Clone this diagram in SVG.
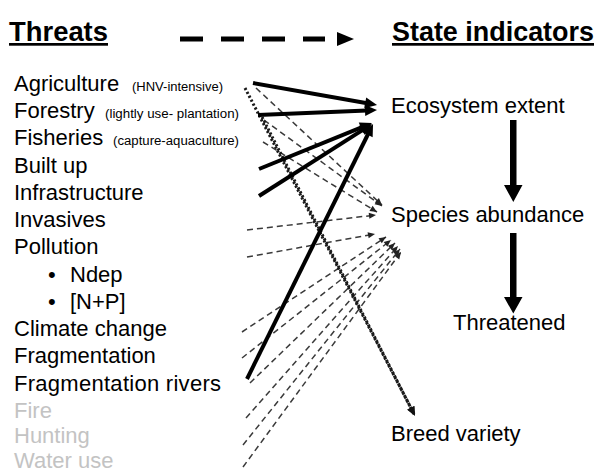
<svg xmlns="http://www.w3.org/2000/svg" width="600" height="472" viewBox="0 0 600 472">
<style>
  text { font-family: "Liberation Sans", Arial, sans-serif; fill: #000; }
  .hd { font-size: 27px; font-weight: bold; text-decoration: underline; }
  .lb { font-size: 22px; }
  .sm { font-size: 12.5px; }
  .gr { fill: #c3c3c3; }
  .thick { stroke: #000; stroke-width: 4; fill: none; marker-end: url(#mThick); }
  .dash { stroke: #3a3a3a; stroke-width: 1.5; stroke-dasharray: 6 4; fill: none; marker-end: url(#mDash); }
  .dot { stroke: #1a1a1a; stroke-width: 3; stroke-dasharray: 2.2 2.2; fill: none; marker-end: url(#mDot); }
  .big { fill: #000; }
</style>
<defs>
  <marker id="mThick" markerUnits="userSpaceOnUse" markerWidth="12" markerHeight="11" refX="2" refY="5.5" orient="auto" overflow="visible">
    <path d="M0,0 L12,5.5 L0,11 Z" fill="#000"/>
  </marker>
  <marker id="mDash" markerUnits="userSpaceOnUse" markerWidth="7" markerHeight="6" refX="7" refY="3" orient="auto" overflow="visible">
    <path d="M0,0 L7,3 L0,6 Z" fill="#222"/>
  </marker>
  <marker id="mDot" markerUnits="userSpaceOnUse" markerWidth="9" markerHeight="8" refX="7" refY="4" orient="auto" overflow="visible">
    <path d="M0,0 L9,4 L0,8 Z" fill="#111"/>
  </marker>
</defs>

<g id="headers">
  <text class="hd" x="9" y="41" textLength="99" lengthAdjust="spacingAndGlyphs">Threats</text>
  <text class="hd" x="392" y="41" textLength="202" lengthAdjust="spacingAndGlyphs">State indicators</text>
  <g id="legend-arrow">
    <line x1="180" y1="39" x2="325" y2="39" stroke="#000" stroke-width="5" stroke-dasharray="23 18"/>
    <path d="M337,32 L354,39 L337,46 Z" fill="#000"/>
  </g>
</g>

<g id="threats">
  <g id="agriculture"><text class="lb" x="14" y="90.5">Agriculture</text><text class="sm" x="132" y="90.5" textLength="91" lengthAdjust="spacingAndGlyphs">(HNV-intensive)</text></g>
  <g id="forestry"><text class="lb" x="14" y="118">Forestry</text><text class="sm" x="105" y="118" textLength="134" lengthAdjust="spacingAndGlyphs">(lightly use- plantation)</text></g>
  <g id="fisheries"><text class="lb" x="14" y="145">Fisheries</text><text class="sm" x="113" y="145" textLength="126" lengthAdjust="spacingAndGlyphs">(capture-aquaculture)</text></g>
  <g id="builtup"><text class="lb" x="14" y="172.5">Built up</text></g>
  <g id="infrastructure"><text class="lb" x="14" y="200">Infrastructure</text></g>
  <g id="invasives"><text class="lb" x="14" y="227">Invasives</text></g>
  <g id="pollution"><text class="lb" x="14" y="254">Pollution</text></g>
  <g id="ndep"><text class="lb" x="48" y="281.5">•</text><text class="lb" x="70" y="281.5">Ndep</text></g>
  <g id="np"><text class="lb" x="48" y="309">•</text><text class="lb" x="70" y="309">[N+P]</text></g>
  <g id="climate"><text class="lb" x="14" y="336">Climate change</text></g>
  <g id="fragmentation"><text class="lb" x="14" y="363">Fragmentation</text></g>
  <g id="fragrivers"><text class="lb" x="14" y="391" textLength="207" lengthAdjust="spacing">Fragmentation rivers</text></g>
  <g id="fire"><text class="lb gr" x="14" y="417.5">Fire</text></g>
  <g id="hunting"><text class="lb gr" x="14" y="443">Hunting</text></g>
  <g id="wateruse"><text class="lb gr" x="14" y="467.5">Water use</text></g>
</g>

<g id="indicators">
  <g id="ecosystem"><text class="lb" x="391" y="113">Ecosystem extent</text></g>
  <g id="species"><text class="lb" x="391" y="222">Species abundance</text></g>
  <g id="threatened"><text class="lb" x="453" y="330">Threatened</text></g>
  <g id="breed"><text class="lb" x="391" y="441">Breed variety</text></g>
</g>

<g id="connectors">
  <!-- dashed: threats to species abundance -->
  <line class="dash" x1="256" y1="88" x2="382" y2="205"/>
  <line class="dash" x1="264" y1="120" x2="382" y2="206"/>
  <line class="dash" x1="263" y1="142" x2="377" y2="212"/>
  <line class="dash" x1="247" y1="230" x2="376" y2="215"/>
  <line class="dash" x1="247" y1="257" x2="375" y2="234"/>
  <line class="dash" x1="242" y1="332" x2="386" y2="237"/>
  <line class="dash" x1="242" y1="358" x2="391" y2="240"/>
  <line class="dash" x1="250" y1="383" x2="395" y2="243"/>
  <line class="dash" x1="246" y1="418" x2="398" y2="246"/>
  <line class="dash" x1="243" y1="445" x2="400" y2="249"/>
  <line class="dash" x1="243" y1="467" x2="401" y2="252"/>
  <!-- dotted: to breed variety -->
  <line class="dot" x1="245" y1="88" x2="414" y2="414"/>
  <line class="dot" x1="262" y1="117" x2="414" y2="414"/>
  <!-- thick: to ecosystem extent -->
  <line class="thick" x1="253" y1="83" x2="367.2" y2="103.3"/>
  <line class="thick" x1="258" y1="115" x2="367" y2="110.4"/>
  <line class="thick" x1="259" y1="169" x2="362.7" y2="126.8"/>
  <line class="thick" x1="259" y1="196" x2="363.6" y2="129.4"/>
  <line class="thick" x1="247" y1="379" x2="368.6" y2="133"/>
  <!-- state indicator chain -->
  <path class="big" d="M510,120 H516.5 V185 H522.5 L513.3,202 L504,185 H510 Z"/>
  <path class="big" d="M510,233 H516.5 V297 H522.5 L513.3,313.5 L504,297 H510 Z"/>
</g>
</svg>
